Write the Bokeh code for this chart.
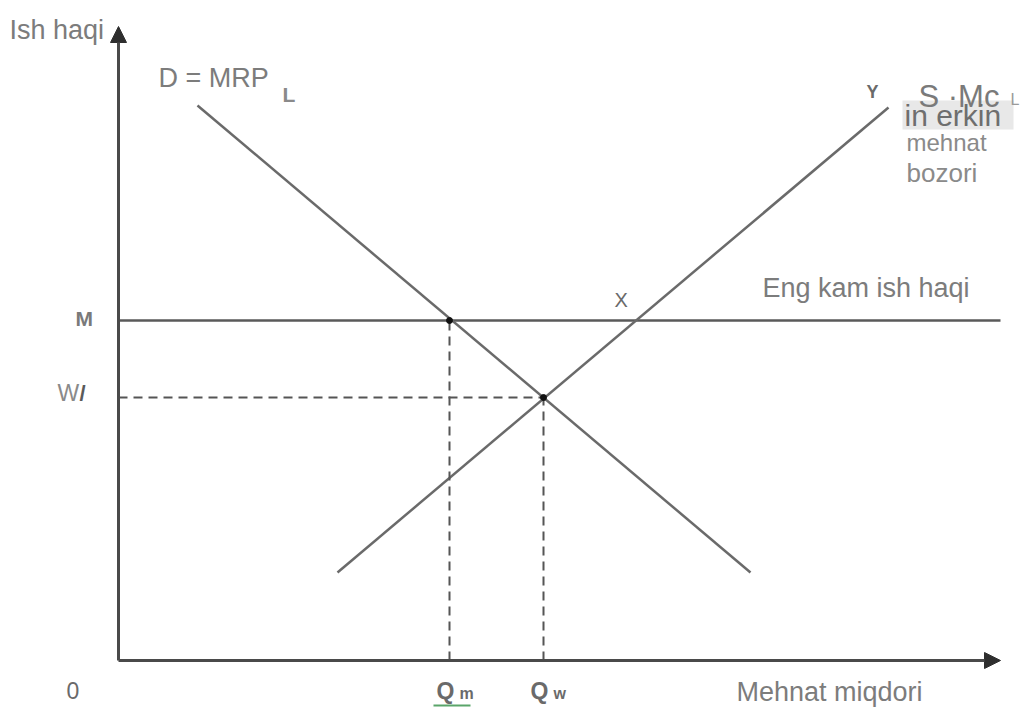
from bokeh.plotting import figure
from bokeh.models import Range1d, Arrow, NormalHead, Label
from bokeh.embed import file_html
from bokeh.resources import INLINE

# ---- data (units: quantity / wage, origin at axes intersection) ----
Q_m = 33.1          # employment under minimum wage
Q_w = 42.5          # competitive employment
W_min = 34.0        # minimum wage (M)
W_e = 26.3          # competitive wage (W)
demand_q = [7.9, 63.2]
demand_w = [55.5, 8.8]
supply_q = [21.9, 77.0]
supply_w = [8.8, 55.3]
x_axis_end = 88.2
y_axis_end = 63.4

# pixel -> data helpers for annotation placement (1 unit = 10 px)
def dx(px):
    return (px - 118) / 10.0

def dy(py):
    return (660 - py) / 10.0

W, H = 1027, 708
p = figure(width=W, height=H, output_backend="svg", toolbar_location=None,
           x_range=Range1d(dx(0), dx(W)), y_range=Range1d(dy(H), dy(0)),
           x_axis_type=None, y_axis_type=None, min_border=0,
           background_fill_color="white", border_fill_color="white")
p.outline_line_color = None
p.xgrid.visible = False
p.ygrid.visible = False

LINE = "#6a6a6a"
DARK = "#4a4a4a"
TXT = "#7c7c7c"

# minimum wage line
p.line([0, x_axis_end], [W_min, W_min], line_color="#5a5a5a", line_width=2.5)
# demand and supply
p.line(demand_q, demand_w, line_color=LINE, line_width=2.5)
p.line(supply_q, supply_w, line_color=LINE, line_width=2.5)
# dashed guides
p.line([Q_m, Q_m], [0, W_min], line_color="#555555", line_width=2, line_dash="9 6")
p.line([Q_w, Q_w], [0, W_e], line_color="#555555", line_width=2, line_dash="9 6")
p.line([0, Q_w], [W_e, W_e], line_color="#555555", line_width=2, line_dash="9 6")
# points
p.scatter([Q_m, Q_w], [W_min, W_e], size=6, color="#111111")

# axes with arrow heads
p.add_layout(Arrow(end=NormalHead(size=16, fill_color="#2e2e2e", line_color="#2e2e2e"),
                   x_start=0, y_start=0, x_end=0, y_end=y_axis_end,
                   line_color=DARK, line_width=3))
p.add_layout(Arrow(end=NormalHead(size=16, fill_color="#2e2e2e", line_color="#2e2e2e"),
                   x_start=0, y_start=0, x_end=x_axis_end, y_end=0,
                   line_color=DARK, line_width=3))

# grey box behind "in erkin"
p.quad(left=[dx(902)], right=[dx(1013)], top=[dy(100)], bottom=[dy(129)],
       fill_color="#e8e8e8", line_color=None)

# green underline below Q_m
p.line([dx(433), dx(470)], [dy(705), dy(705)], line_color="#5aa56a", line_width=2)

OFF = 9  # renderer places the alphabetic baseline slightly lower; compensate

def lab(text, px, py, size, color=TXT, style="normal", font="Liberation Sans"):
    p.add_layout(Label(x=dx(px), y=dy(py - OFF), text=text, text_font=font,
                       text_font_size=f"{size}px", text_color=color,
                       text_font_style=style, text_baseline="alphabetic",
                       text_align="left"))

lab("Ish haqi", 9, 38, 27)
lab("D = MRP", 158, 86, 27)
lab("L", 282, 103, 21, color="#8a8a8a", style="bold")
lab("Y", 866, 100, 18, color="#6a6a6a", style="bold")
lab("S ·Mc", 918, 105, 31, color="#7a7a7a")
lab("in erkin", 904, 124, 30, color="#6e6e6e")
lab("L", 1010, 108, 16, color="#9a9a9a")
lab("mehnat", 906, 151, 24, color="#8a8a8a")
lab("bozori", 906, 181, 26, color="#8a8a8a")
lab("Eng kam ish haqi", 762, 296, 27)
lab("X", 614, 308, 20, color="#6a6a6a")
lab("M", 75, 327, 21, color="#7a7a7a", style="bold")
lab("W", 57, 401, 23, color="#8a8a8a")
lab("/", 79, 402, 22, color="#5a5a5a", style="bold")
lab("0", 66, 699, 23, color="#6a6a6a")
lab("Q", 436, 699, 23, color="#6a6a6a", style="bold")
lab("m", 459, 702, 16, color="#6a6a6a", style="bold")
lab("Q", 530, 699, 23, color="#6a6a6a", style="bold")
lab("w", 553, 702, 16, color="#6a6a6a", style="bold")
lab("Mehnat miqdori", 736, 700, 27)

open("out.html", "w").write(file_html(p, INLINE))
